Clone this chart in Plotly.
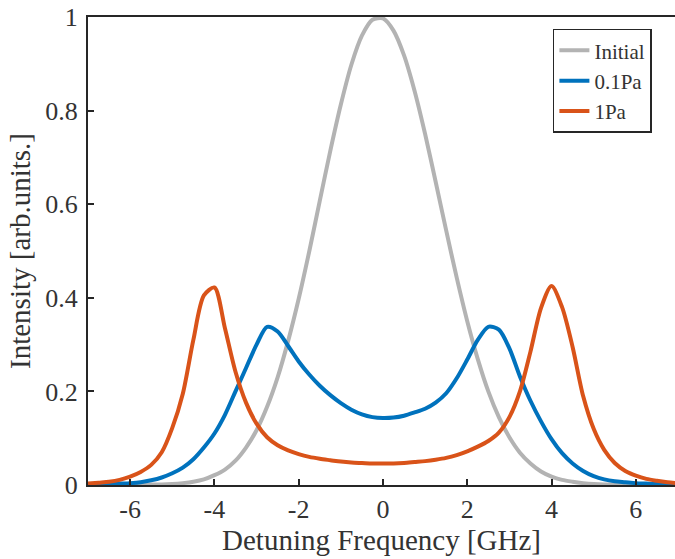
import plotly.graph_objects as go

# Detuning frequency grid [GHz]
freq = [-7, -6.75, -6.5, -6.25, -6, -5.75, -5.5, -5.25, -5, -4.75, -4.5, -4.25, -4, -3.75,
        -3.5, -3.25, -3, -2.75, -2.5, -2.25, -2, -1.75, -1.5, -1.25, -1, -0.75, -0.5, -0.25,
        0, 0.25, 0.5, 0.75, 1, 1.25, 1.5, 1.75, 2, 2.25, 2.5, 2.75, 3, 3.25, 3.5, 3.75,
        4, 4.25, 4.5, 4.75, 5, 5.25, 5.5, 5.75, 6, 6.25, 6.5, 6.75, 7]

initial = [0, 0, 0, 0, 0, 0, 0.001, 0.001, 0.002, 0.004, 0.007, 0.012, 0.021, 0.033,
           0.052, 0.080, 0.117, 0.167, 0.230, 0.308, 0.398, 0.499, 0.607, 0.714, 0.813, 0.898, 0.960, 0.994,
           0.997, 0.971, 0.918, 0.842, 0.750, 0.648, 0.544, 0.443, 0.350, 0.269, 0.200, 0.145, 0.102, 0.069, 0.046, 0.029,
           0.018, 0.011, 0.007, 0.004, 0.002, 0.001, 0.001, 0, 0, 0, 0, 0, 0]

pa01 = [0.001, 0.002, 0.002, 0.003, 0.004, 0.006, 0.010, 0.016, 0.025, 0.037, 0.055, 0.080, 0.110, 0.150,
        0.200, 0.250, 0.300, 0.338, 0.328, 0.297, 0.264, 0.236, 0.212, 0.192, 0.175, 0.161, 0.151, 0.145,
        0.143, 0.144, 0.148, 0.155, 0.163, 0.176, 0.196, 0.228, 0.268, 0.310, 0.338, 0.332, 0.292, 0.232, 0.180, 0.136,
        0.098, 0.068, 0.046, 0.030, 0.019, 0.012, 0.008, 0.006, 0.004, 0.003, 0.002, 0.002, 0.001]

pa1 = [0.003, 0.005, 0.007, 0.011, 0.018, 0.028, 0.043, 0.070, 0.122, 0.195, 0.310, 0.405, 0.422, 0.335,
       0.242, 0.176, 0.131, 0.102, 0.085, 0.074, 0.066, 0.060, 0.056, 0.053, 0.050, 0.048, 0.047, 0.046,
       0.046, 0.046, 0.047, 0.049, 0.051, 0.054, 0.058, 0.064, 0.072, 0.082, 0.094, 0.112, 0.145, 0.200, 0.285, 0.378,
       0.425, 0.380, 0.295, 0.190, 0.120, 0.075, 0.047, 0.030, 0.020, 0.013, 0.009, 0.006, 0.004]

x_tickvals = [-6, -4, -2, 0, 2, 4, 6]
x_ticktext = ["-6", "-4", "-2", "0", "2", "4", "6"]
y_tickvals = [0, 0.2, 0.4, 0.6, 0.8, 1]
y_ticktext = ["0", "0.2", "0.4", "0.6", "0.8", "1"]

FONT = "Liberation Serif, Times New Roman, Times, serif"
AXC = "#262626"
TXT = "#333333"

fig = go.Figure()
for name, ys, col in [("Initial", initial, "#b3b3b3"),
                      ("0.1Pa", pa01, "#0072BD"),
                      ("1Pa", pa1, "#D95319")]:
    fig.add_trace(go.Scatter(x=freq, y=ys, name=name, mode="lines",
                             line=dict(color=col, width=4, shape="spline", smoothing=0.8)))

fig.update_layout(
    width=675, height=559,
    margin=dict(l=88, r=0, t=17, b=74),
    paper_bgcolor="white", plot_bgcolor="white",
    font=dict(family=FONT, color=TXT, size=22),
    showlegend=True,
    legend=dict(x=0.792, y=0.975, xanchor="left", yanchor="top",
                bordercolor=AXC, borderwidth=1.5, bgcolor="white",
                font=dict(family=FONT, size=21, color=TXT),
                tracegroupgap=0, itemwidth=30),
)
fig.update_xaxes(range=[-7, 6.93], tickvals=x_tickvals, ticktext=x_ticktext,
                 showline=True, linecolor=AXC, linewidth=2, mirror=True,
                 ticks="inside", ticklen=6, tickcolor=AXC, tickwidth=1.5,
                 showgrid=False, zeroline=False,
                 tickfont=dict(family=FONT, size=26, color=TXT),
                 title=dict(text="Detuning Frequency [GHz]", standoff=2,
                            font=dict(family=FONT, size=29, color=TXT)))
fig.update_yaxes(range=[0, 1], tickvals=y_tickvals, ticktext=y_ticktext,
                 showline=True, linecolor=AXC, linewidth=2,
                 ticks="inside", ticklen=6, tickcolor=AXC, tickwidth=1.5,
                 ticklabelstandoff=3,
                 showgrid=False, zeroline=False,
                 tickfont=dict(family=FONT, size=26, color=TXT),
                 title=dict(text="Intensity [arb.units.]", standoff=6,
                            font=dict(family=FONT, size=29, color=TXT)))

fig.write_html("out.html")
